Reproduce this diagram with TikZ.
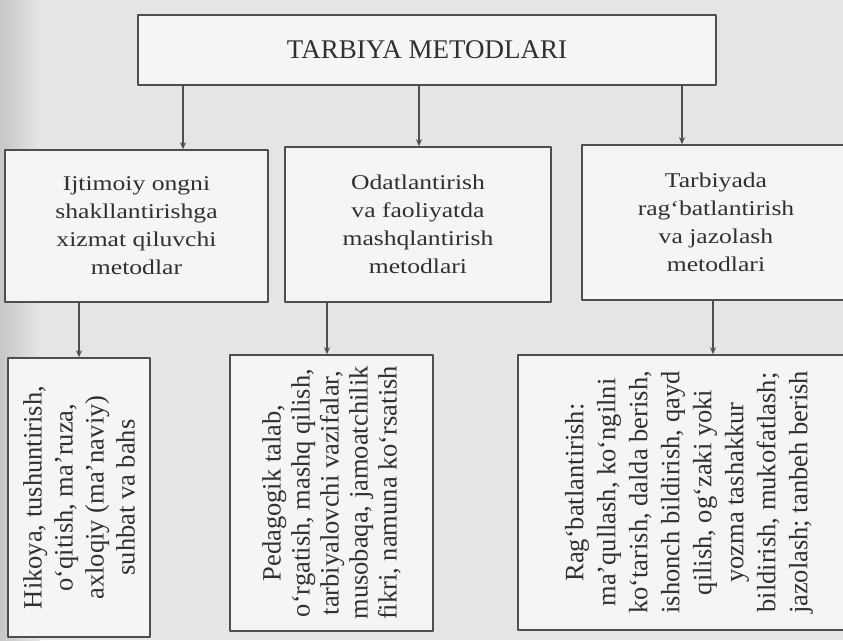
\documentclass[tikz,border=0pt]{standalone}
\usepackage{fontspec}
\setmainfont{Liberation Serif}
\newfontfamily\kengfont{Liberation Serif}[FakeStretch=1.22]
\usetikzlibrary{arrows.meta}
\definecolor{qogoz}{RGB}{229,229,229}
\definecolor{chiziq}{RGB}{78,78,78}
\definecolor{matn}{RGB}{48,48,48}
\begin{document}
\begin{tikzpicture}[x=1pt,y=1pt,line join=round,line cap=round,>={Stealth[length=7pt,width=6pt]},
		quti/.style={draw=chiziq,line width=1.6pt,fill=black!4,text=matn,align=center,inner sep=0pt},
		bosh/.style={quti,line width=2.6pt,font=\fontsize{27}{30}\selectfont},
		orta/.style={quti,font=\kengfont\fontsize{21}{28}\selectfont},
		past/.style={quti,rotate=90,font=\fontsize{26.5}{30}\selectfont},
		strel/.style={->,draw=chiziq,line width=1.4pt}]
			\def\W{843}
			\def\H{640}
			%Fon
			\fill[qogoz] (0,0) rectangle (\W,\H);
			\shade[left color=black!22,right color=qogoz] (0,0) rectangle (40,\H);
			\useasboundingbox (0,0) rectangle (\W,\H);
			%Qutilar
			\node[bosh,minimum width=578pt,minimum height=70pt] (tm) at (427,590) {TARBIYA METODLARI};
			\node[orta,minimum width=263pt,minimum height=152pt] (m1) at (136.5,414) {Ijtimoiy ongni\\shakllantirishga\\xizmat qiluvchi\\metodlar};
			\node[orta,minimum width=266pt,minimum height=155pt] (m2) at (418,415.5) {Odatlantirish\\va faoliyatda\\mashqlantirish\\metodlari};
			\node[orta,minimum width=268pt,minimum height=155pt] (m3) at (716,417.5) {Tarbiyada\\rag‘batlantirish\\va jazolash\\metodlari};
			\node[past,minimum width=279pt,minimum height=142pt,font=\fontsize{26.5}{31}\selectfont] (b1) at (79,142.5) {Hikoya, tushuntirish,\\o‘qitish, ma’ruza,\\axloqiy (ma’naviy)\\suhbat va bahs};
			\node[past,minimum width=276pt,minimum height=203pt,font=\fontsize{26.5}{29}\selectfont] (b2) at (331.5,147) {Pedagogik talab,\\o‘rgatish, mashq qilish,\\tarbiyalovchi vazifalar,\\musobaqa, jamoatchilik\\fikri, namuna ko‘rsatish};
			\node[past,minimum width=275pt,minimum height=342pt,font=\fontsize{26.5}{32}\selectfont] (b3) at (689,147.5) {Rag‘batlantirish:\\ma’qullash, ko‘ngilni\\ko‘tarish, dalda berish,\\ishonch bildirish, qayd\\qilish, og‘zaki yoki\\yozma tashakkur\\bildirish, mukofatlash;\\jazolash; tanbeh berish};
			%Strelkalar
			\draw[strel] (tm.south -| 183,0) -- (183,0 |- m1.north);
			\draw[strel] (tm.south -| 419,0) -- (419,0 |- m2.north);
			\draw[strel] (tm.south -| 682,0) -- (682,0 |- m3.north);
			\draw[strel] (m1.south -| b1.east) -- (b1.east);
			\draw[strel] (m2.south -| 327,0) -- (327,0 |- b2.east);
			\draw[strel] (m3.south -| 713,0) -- (713,0 |- b3.east);
		\end{tikzpicture}
\end{document}
